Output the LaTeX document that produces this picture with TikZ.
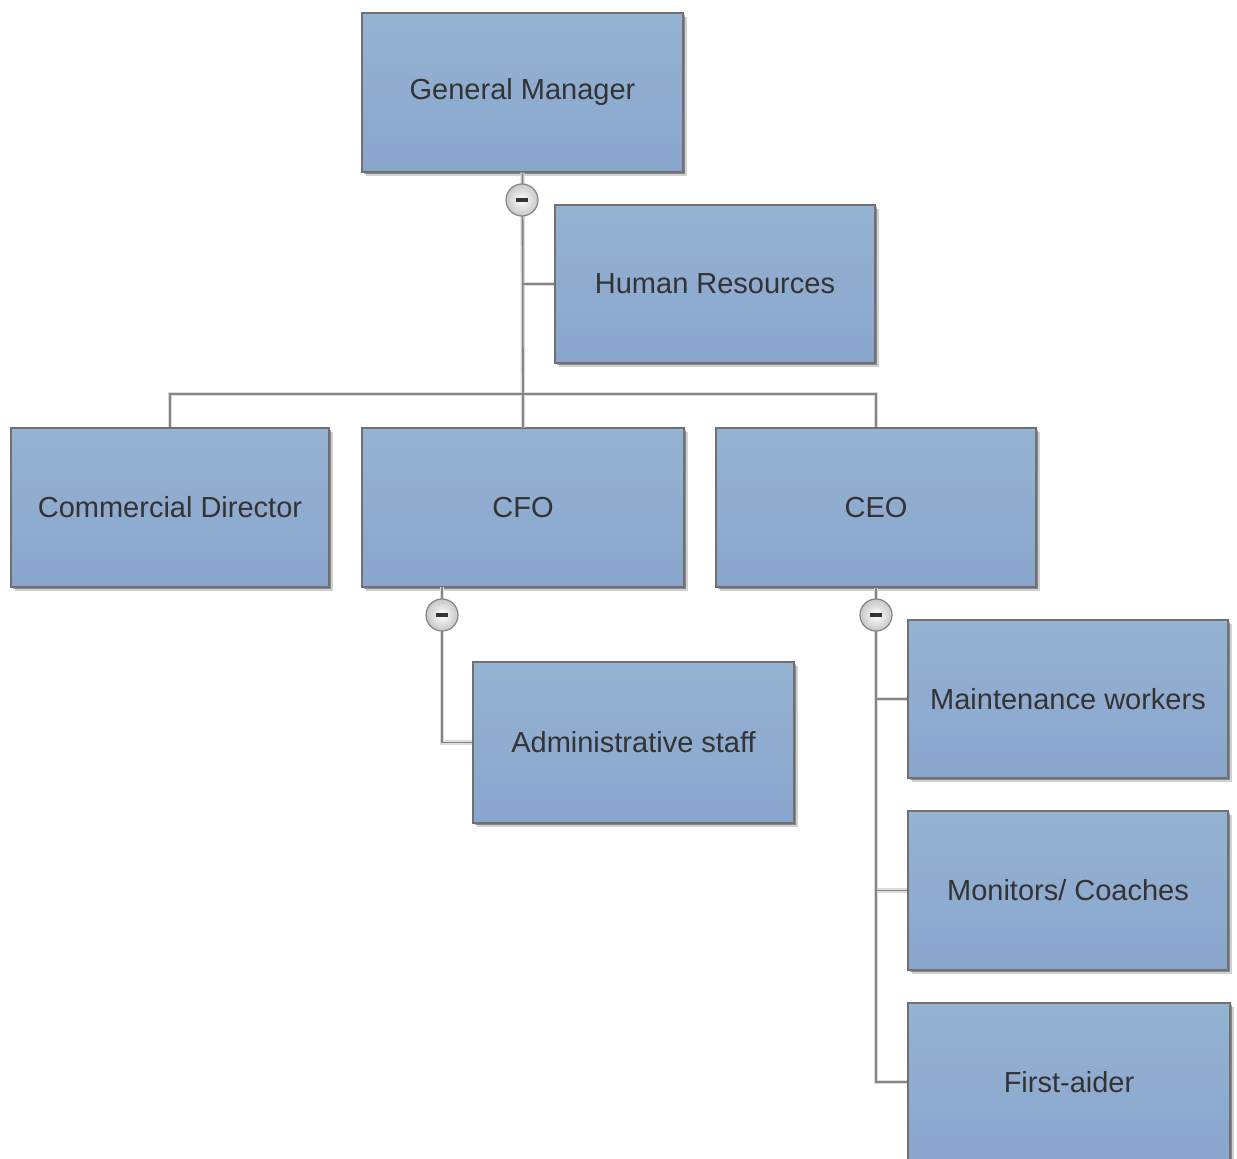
\documentclass[tikz,border=0pt]{standalone}
\usepackage{fontspec}
\setmainfont{Liberation Sans}
\usetikzlibrary{shadows}
\definecolor{boxtop}{HTML}{95B3D2}
\definecolor{boxbot}{HTML}{89A5CE}
\definecolor{boxline}{HTML}{707070}
\definecolor{boxtext}{HTML}{333333}
\definecolor{wirecol}{HTML}{858585}
\definecolor{halocol}{HTML}{DCDCDC}
\tikzset{
  orgbox/.style={rectangle, draw=boxline, line width=0.7pt,
    top color=boxtop, bottom color=boxbot, inner sep=0pt,
    text=boxtext, font=\fontsize{14.5}{17}\selectfont,
    drop shadow={shadow xshift=2.2pt, shadow yshift=-2.2pt, opacity=0.18, fill=black},
    drop shadow={shadow xshift=1.2pt, shadow yshift=-1.2pt, opacity=0.35, fill=black}},
  wire/.style={draw=wirecol, line width=0.9pt},
  wirehalo/.style={draw=halocol, line width=2.2pt},
  toggle/.style={circle, draw=wirecol, line width=0.6pt, minimum size=16pt,
    inner sep=0pt, inner color=white, outer color=black!22,
    path picture={\fill[black!80]
      ([xshift=-3pt,yshift=-1.1pt]path picture bounding box.center) rectangle
      ([xshift=3pt,yshift=1.1pt]path picture bounding box.center);}}
}
% all connectors of the chart, drawn with the style given
\newcommand\orgwires[1]{%
  \draw[#1] (gm.south) -- (cfo.north);
  \draw[#1] (gm.south |- hr.west) -- (hr.west);
  \draw[#1] (cd.north) -- ++(0,-33) -| (ceo.north);
  \draw[#1] (cfotrunk) |- (adm.west);
  \draw[#1] (ceo.south) |- (fa.west);
  \draw[#1] (ceo.south |- mw.west) -- (mw.west);
  \draw[#1] (ceo.south |- mc.west) -- (mc.west);
}
\begin{document}
\begin{tikzpicture}[x=0.5pt, y=-0.5pt]
\useasboundingbox[fill=white] (0,0) rectangle (1237,1159);

% boxes
\node[orgbox, minimum width=160.5pt, minimum height=79.5pt] (gm)  at (522.5,92.5) {General Manager};
\node[orgbox, minimum width=160pt,   minimum height=79pt]   (hr)  at (715,284)    {Human Resources};
\node[orgbox, minimum width=159pt,   minimum height=79.5pt] (cd)  at (170,507.5)  {Commercial Director};
\node[orgbox, minimum width=161pt,   minimum height=79.5pt] (cfo) at (523,507.5)  {CFO};
\node[orgbox, minimum width=160pt,   minimum height=79.5pt] (ceo) at (876,507.5)  {CEO};
\node[orgbox, minimum width=160.5pt, minimum height=80.5pt] (adm) at (633.5,742.5){Administrative staff};
\node[orgbox, minimum width=160pt,   minimum height=79pt]   (mw)  at (1068,699)   {Maintenance workers};
\node[orgbox, minimum width=160pt,   minimum height=79.5pt] (mc)  at (1068,890.5) {Monitors/ Coaches};
\node[orgbox, minimum width=161pt,   minimum height=79pt]   (fa)  at (1069,1082)  {First-aider};

% trunk start below the CFO box
\coordinate (cfotrunk) at (442,587);

% connectors: soft halo first, then the lines themselves
\orgwires{wirehalo}
\orgwires{wire}

% collapse toggles
\node[toggle] (tgm)  at (522,200) {};
\node[toggle] (tcfo) at (442,615) {};
\node[toggle] (tceo) at (876,615) {};
\end{tikzpicture}
\end{document}
